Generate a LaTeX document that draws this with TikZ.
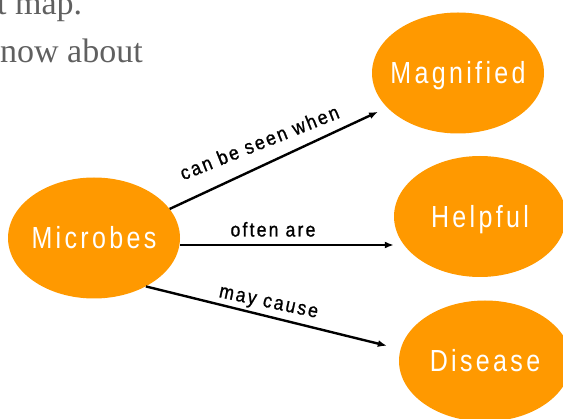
\documentclass[tikz,border=0pt]{standalone}
\usepackage{fontspec}
\setmainfont{Liberation Serif}
\newfontfamily\bubblefont[FakeStretch=0.82,LetterSpace=11]{Liberation Sans}
\newfontfamily\linkfont[FakeStretch=0.88,LetterSpace=11,FakeBold=1]{Liberation Sans}
\usetikzlibrary{shapes.geometric,arrows.meta}
\definecolor{mango}{RGB}{255,153,0}
\definecolor{slate}{RGB}{96,96,96}
\begin{document}
\begin{tikzpicture}[x=1pt,y=-1pt,
  bubble/.style={ellipse, fill=mango, draw=none, minimum width=172pt, minimum height=121pt, inner sep=0pt},
  bubbletext/.style={text=white, font=\bubblefont\fontsize{30.5}{30.5}\selectfont, inner sep=0pt, text height=22pt, text depth=0pt},
  link/.style={line width=2.4pt, -{Latex[length=9pt,width=7pt]}},
  linklabel/.style={font=\linkfont\fontsize{20}{20}\selectfont, inner sep=0pt, anchor=base},
  heading/.style={font=\fontsize{34}{34}\selectfont, text=slate, inner sep=0pt, anchor=base west}]
\useasboundingbox (0,0) rectangle (563,419);
\clip (0,0) rectangle (563,419);

\node[heading] (h1) at (-3,15) {t map.};
\node[heading] (h2) at (0,63) {now about};

\node[bubble] (microbes)  at (94,238)   {};
\node[bubble] (magnified) at (458,73)   {};
\node[bubble] (helpful)   at (480,216.5) {};
\node[bubble] (disease)   at (485,361)  {};

\node[bubbletext] (microbes-t)  at (microbes)  {Microbes};
\node[bubbletext] (magnified-t) at (magnified) {Magnified};
\node[bubbletext] (helpful-t)   at (helpful)   {Helpful};
\node[bubbletext] (disease-t)   at (disease)   {Disease};

\draw[link, shorten >=10pt] (microbes.21) -- (magnified.206.6);
\draw[link] ([yshift=-7pt]microbes.east) -- ([yshift=-7pt]microbes.east -| helpful.west);
\draw[link, shorten >=14pt] (microbes.-43) -- (disease.172.6);

\node[linklabel, rotate=21.8] (l1) at (262,149) {can be seen when};
\node[linklabel] (l2) at (273,236.5) {often are};
\node[linklabel, rotate=-12] (l3) at (267.5,307.5) {may cause};
\end{tikzpicture}
\end{document}
